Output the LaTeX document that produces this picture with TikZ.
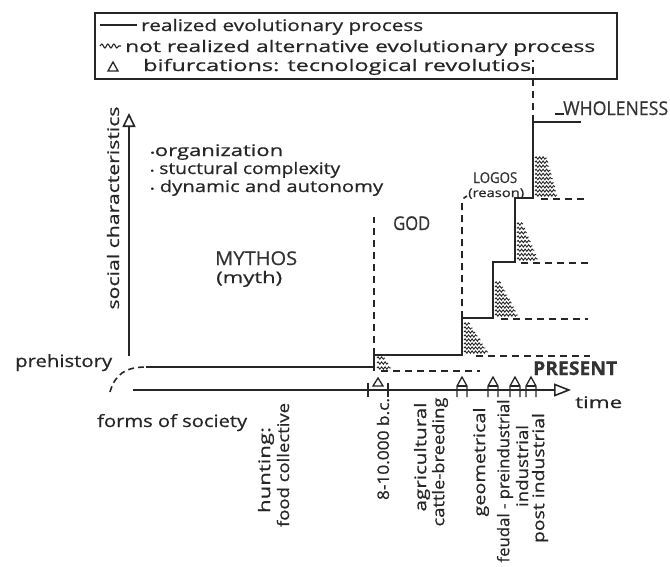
\documentclass[tikz,border=0pt]{standalone}
\usepackage{fontspec}
\setmainfont{Open Sans}[FakeBold=0.6]
\usetikzlibrary{arrows.meta,decorations.pathmorphing}
\newcommand\fw[2]{\resizebox{#1pt}{\height}{#2}}
\newcommand\hatch[6]{%
  \foreach \k in {0,...,#6}{%
    \pgfmathsetmacro\yy{#2-(#2-#3)*\k/#6}%
    \pgfmathsetmacro\ww{#4+(#5-#4)*\k/#6}%
    \draw[wave] (#1,\yy) -- ++(\ww,0);
  }}
\newcommand\bifmark[1]{%
  \draw[ink, line width=1.3pt] (#1-5,397) -- (#1-5,386) -- (#1,377) -- (#1+5,386) -- (#1+5,397);
  \draw[ink, line width=1.3pt] (#1-5,386) -- (#1+5,386);}
\tikzset{
  ink/.style={line width=1.6pt, black!85},
  alt/.style={line width=1.6pt, dash pattern=on 7pt off 5pt, black!85},
  wave/.style={line width=0.9pt, black!85, decorate, decoration={snake, segment length=3.5pt, amplitude=1.2pt}},
  lbl/.style={inner sep=0pt, font=\fontsize{16}{17}\selectfont, text=black!85},
  capl/.style={inner sep=0pt, font=\fontsize{19}{20}\selectfont, text=black!80},
  rlbl/.style={lbl, rotate=90, anchor=center},
  dotb/.style={},
}
\newcommand\bul{{\fontsize{9}{9}\selectfont\textbullet}}
\begin{document}
\begin{tikzpicture}[x=1pt,y=-1pt]
\useasboundingbox (0,0) rectangle (670,566);
% legend
\draw[ink, line width=1.2pt] (95,13) rectangle (617,79);
\draw[ink, line width=1.3pt] (100,25) -- (137,25);
\node[lbl, anchor=base west] (l1) at (141,31) {\fw{282}{realized evolutionary process}};
\draw[wave, line width=1.1pt, decoration={snake, segment length=6pt, amplitude=2pt}] (100,46) -- (121,46);
\node[lbl, anchor=base west] (l2) at (125,52) {\fw{470}{not realized alternative evolutionary process}};
\draw[ink, line width=1.3pt] (108,71) -- (113,62) -- (118,71) -- cycle;
\node[lbl, anchor=base west] (l3) at (143,71) {\fw{388}{bifurcations: tecnological revolutios}};
% axes
\draw[ink, -{Triangle[open,length=14pt,width=13pt]}] (129,356) -- (129,113);
\draw[ink, -{Triangle[open,length=17pt,width=13pt]}] (133,390) -- (571,390);
\node[lbl, rotate=90] (ylab) at (113,208) {\fw{203}{social characteristics}};
\node[lbl, anchor=base west] (time) at (575,408) {\fw{47}{time}};
% characteristics list
\node[lbl, anchor=base west] (b1) at (150,156) {\fw{133}{\bul organization}};
\node[lbl, anchor=base west] (b2) at (150,174) {\fw{190}{\bul\ stuctural complexity}};
\node[lbl, anchor=base west] (b3) at (150,192) {\fw{233}{\bul\ dynamic and autonomy}};
% eras
\node[capl, anchor=base west] (mythos) at (215,265) {\fw{82}{MYTHOS}};
\node[lbl, anchor=base west] (myth) at (216,283) {\fw{66}{(myth)}};
\node[capl, anchor=base west] (god) at (393,230) {\fw{37}{GOD}};
\node[capl, font=\fontsize{15}{16}\selectfont, anchor=base west] (logos) at (473,183) {\fw{44}{LOGOS}};
\node[lbl, font=\fontsize{12}{13}\selectfont, anchor=base west] (reason) at (468,197) {\fw{56}{(reason)}};
\node[capl, anchor=base west] (whole) at (563,115) {\fw{105}{WHOLENESS}};
\node[capl, font=\fontsize{19}{20}\selectfont\bfseries, anchor=base west] (present) at (533,375) {\fw{84}{PRESENT}};
\draw[ink, line width=1.2pt] (555,114) -- (564,114);
% prehistory
\node[lbl, font=\fontsize{17}{18}\selectfont, anchor=base west] (pre) at (15,367) {\fw{97}{prehistory}};
\node[lbl, font=\fontsize{17}{18}\selectfont, anchor=base west] (forms) at (97,427) {\fw{150}{forms of society}};
\draw[alt, dash pattern=on 6pt off 4pt] (110,392) .. controls (115,374) and (126,367) .. (146,367);
% realized process
\draw[ink] (146,367) -- (374,367);
\draw[ink] (374,371) -- (374,355) -- (462,355) -- (462,318) -- (493,318) -- (493,262)
  -- (515,262) -- (515,198) -- (533,198) -- (533,122) -- (581,122);
% not realized alternatives
\draw[alt] (374,355) -- (374,217);
\draw[alt] (462,318) -- (462,203) .. controls (462,199) and (464,197) .. (467,196);
\draw[alt] (533,122) -- (533,60);
\draw[alt] (381,371) -- (480,371);
\draw[alt] (476,356) -- (590,356);
\draw[alt] (501,319) -- (588,319);
\draw[alt] (521,263) -- (588,263);
\draw[alt] (541,199) -- (588,199);
% hatches
\hatch{377}{368}{358}{14}{8}{2}
\hatch{464}{352}{324}{24}{6}{7}
\hatch{495}{315}{283}{23}{6}{8}
\hatch{517}{259}{224}{21}{6}{8}
\hatch{535}{195}{158}{22}{12}{9}
% bifurcations on time axis
\draw[ink, line width=1.3pt] (368,383) -- (368,397);
\draw[ink, line width=1.3pt] (388,383) -- (388,397);
\draw[ink, line width=1.3pt] (373,386) -- (378,378) -- (383,386) -- cycle;
\bifmark{462}
\bifmark{493}
\bifmark{515}
\bifmark{531}
% forms of society labels
\node[rlbl] (hunt) at (266,470) {\fw{86}{hunting:}};
\node[rlbl] (food) at (283,465) {\fw{124}{food collective}};
\node[rlbl] (bc) at (383,449) {\fw{102}{8-10.000 b.c.}};
\node[rlbl] (agri) at (422,457) {\fw{109}{agricultural}};
\node[rlbl] (cattle) at (440,462) {\fw{129}{cattle-breeding}};
\node[rlbl] (geo) at (481,462) {\fw{109}{geometrical}};
\node[rlbl] (feud) at (505,481) {\fw{163}{feudal - preindustrial}};
\node[rlbl] (ind) at (522,466) {\fw{82}{industrial}};
\node[rlbl] (post) at (540,478) {\fw{130}{post industrial}};
\end{tikzpicture}
\end{document}
